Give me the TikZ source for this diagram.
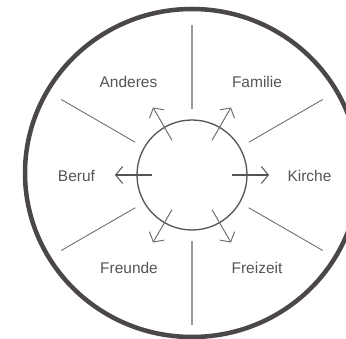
\documentclass[tikz,border=0pt]{standalone}
\usepackage{fontspec}
\setmainfont{Liberation Sans}
\usetikzlibrary{arrows.meta}
\definecolor{ringcol}{HTML}{4A4649}
\definecolor{hubcol}{HTML}{575255}
\definecolor{divlight}{HTML}{9A9A9A}
\definecolor{divdark}{HTML}{707070}
\definecolor{txtcol}{HTML}{555555}
\tikzset{
  ring/.style={draw=ringcol, line width=4.5pt},
  hub/.style={circle, draw=hubcol, line width=1.3pt, minimum size=110pt, inner sep=0pt},
  vdiv/.style={draw=divlight, line width=1.8pt},
  ddiv/.style={draw=divdark, line width=0.9pt},
  lab/.style={text=txtcol, font=\fontsize{15.5}{18}\selectfont, anchor=base, inner sep=0pt},
  tip/.style={-{Straight Barb[length=7pt, width=17pt, line width=1pt]}},
  harrow/.style={tip, draw=hubcol, line width=2pt},
  darrow/.style={tip, draw=divdark, line width=1pt},
}
\begin{document}
\begin{tikzpicture}[x=1pt, y=1pt]
\useasboundingbox (0,0) rectangle (346,339);
% centre
\coordinate (c) at (192,164);
% outer ring
\draw[ring] (192,166) ellipse [x radius=167, y radius=164];
% hub
\node[hub] (hub) at (c) {};
% dividers
\foreach \a/\n in {90/v1, 270/v2} {
  \path (c) ++(\a:66) coordinate (\n i) (c) ++(\a:150) coordinate (\n o);
  \draw[vdiv] (\n i) -- (\n o);
}
\foreach \a/\n in {30/d1, 150/d2, 210/d3, 330/d4} {
  \path (c) ++(\a:65.5) coordinate (\n i) (c) ++(\a:151) coordinate (\n o);
  \draw[ddiv] (\n i) -- (\n o);
}
% arrows
\foreach \a/\n in {0/a0, 180/a180} {
  \path (c) ++(\a:40) coordinate (\n s) (c) ++(\a:77) coordinate (\n e);
  \draw[harrow] (\n s) -- (\n e);
}
\foreach \a/\n in {60/a60, 120/a120, 240/a240, 300/a300} {
  \path (c) ++(\a:40) coordinate (\n s) (c) ++(\a:78) coordinate (\n e);
  \draw[darrow] (\n s) -- (\n e);
}
% labels
\node[lab] (anderes) at (128.5,251) {Anderes};
\node[lab] (familie) at (257,251) {Familie};
\node[lab] (beruf) at (76.5,157.5) {Beruf};
\node[lab] (kirche) at (309.5,157.5) {Kirche};
\node[lab] (freunde) at (129,65) {Freunde};
\node[lab] (freizeit) at (257,65) {Freizeit};
\end{tikzpicture}
\end{document}
